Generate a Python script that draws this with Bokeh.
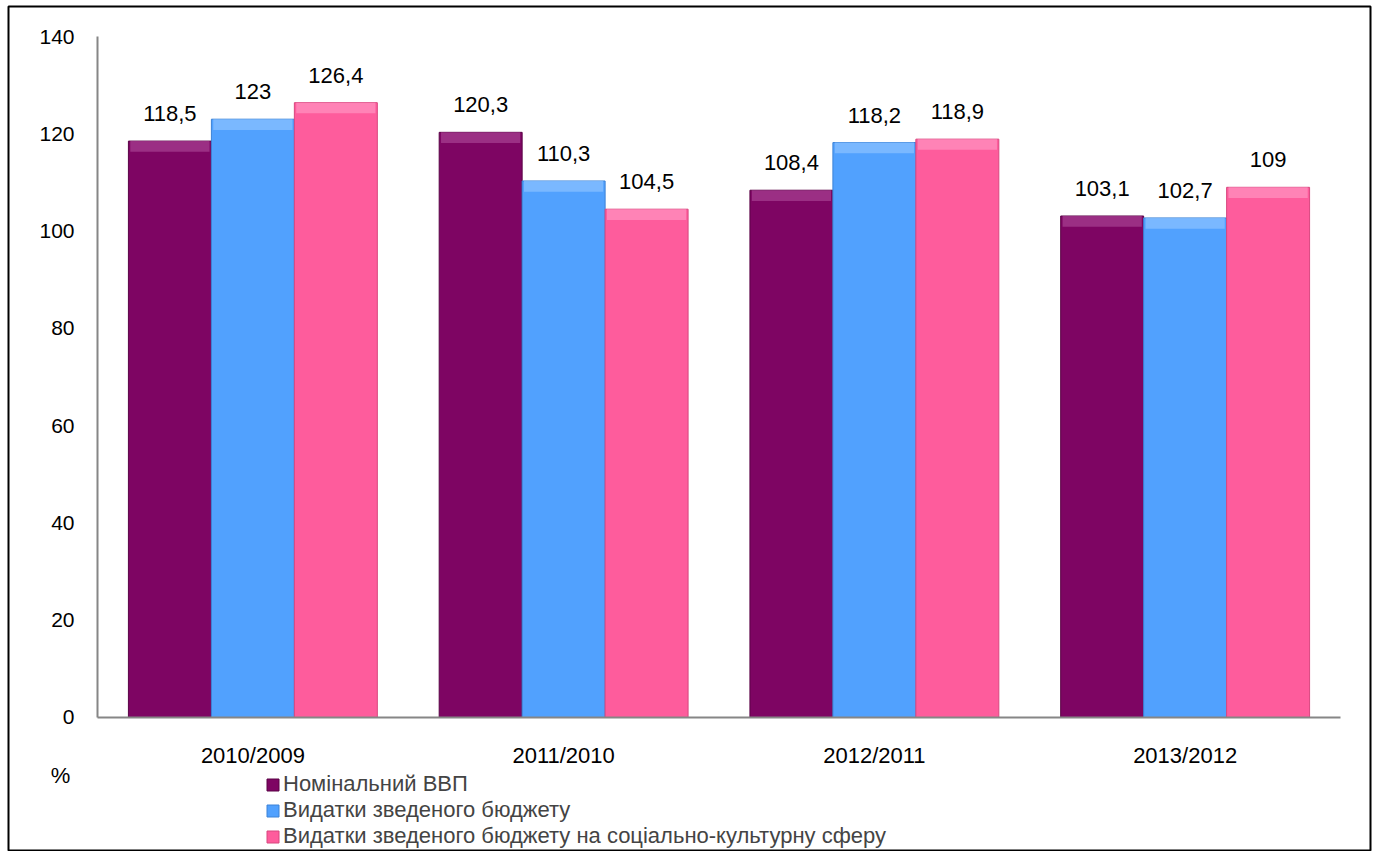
from bokeh.plotting import figure
from bokeh.models import (ColumnDataSource, Range1d, FixedTicker, Legend,
                          LegendItem, LabelSet, Label, LinearAxis)
from bokeh.core.properties import value
from bokeh.embed import file_html
from bokeh.resources import INLINE

categories = ["2010/2009", "2011/2010", "2012/2011", "2013/2012"]
gdp = [118.5, 120.3, 108.4, 103.1]
budget = [123.0, 110.3, 118.2, 102.7]
social = [126.4, 104.5, 118.9, 109.0]
gdp_lbl = ["118,5", "120,3", "108,4", "103,1"]
budget_lbl = ["123", "110,3", "118,2", "102,7"]
social_lbl = ["126,4", "104,5", "118,9", "109"]
series_names = ["Номінальний ВВП", "Видатки зведеного бюджету",
                "Видатки зведеного бюджету на соціально-культурну сферу"]
y_ticks = [0, 20, 40, 60, 80, 100, 120, 140]

colors = ["#7E0563", "#51A1FE", "#FE5C9C"]
edge = ["#5A0346", "#3C82D6", "#D8477F"]
hilite = ["#A2398C", "#85BEFF", "#FF8DBD"]
FONT = "Liberation Sans"

centers = [i + 0.5 for i in range(len(categories))]
W = 0.267
offs = [-W, 0.0, W]
keys = ["gdp", "budget", "social"]
data = dict(gdp=gdp, budget=budget, social=social)
labels = dict(gdp=gdp_lbl, budget=budget_lbl, social=social_lbl)

p = figure(x_range=Range1d(-0.2864, 4.0965), y_range=Range1d(-27.55, 146.17),
           width=1372, height=851, output_backend="svg", toolbar_location=None,
           min_border=0, min_border_left=8, min_border_right=2,
           min_border_top=6, min_border_bottom=0,
           x_axis_location=None, y_axis_location=None)
p.outline_line_color = "black"
p.outline_line_width = 2
p.xgrid.grid_line_color = None
p.ygrid.grid_line_color = None

items = []
for k, o, c, e, h, name in zip(keys, offs, colors, edge, hilite, series_names):
    xs = [cx + o for cx in centers]
    src = ColumnDataSource(dict(x=xs, top=data[k], hb=[v - 2.2 for v in data[k]], lbl=labels[k]))
    r = p.vbar(x="x", top="top", bottom=0, width=W, source=src,
               fill_color=c, line_color=e, line_width=1)
    p.vbar(x="x", top="top", bottom="hb", width=W - 0.012, source=src,
           fill_color=h, line_color=None, fill_alpha=0.8)
    items.append(LegendItem(label=name, renderers=[r]))
    p.add_layout(LabelSet(x="x", y="top", text="lbl", source=src,
                          text_align="center", text_baseline="bottom", y_offset=20,
                          text_font=value(FONT), text_font_size="22px", text_color="black"))

xax = LinearAxis(fixed_location=0, bounds=(0, len(categories)),
                 ticker=FixedTicker(ticks=centers),
                 major_label_overrides={c: s for c, s in zip(centers, categories)})
yax = LinearAxis(fixed_location=0, bounds=(0, 140), ticker=FixedTicker(ticks=y_ticks))
for ax in (xax, yax):
    ax.axis_line_color = "#868686"
    ax.axis_line_width = 2
    ax.major_tick_line_color = None
    ax.minor_tick_line_color = None
    ax.major_label_text_font = FONT
    ax.major_label_text_font_size = "22px"
    ax.major_label_text_color = "black"
yax.major_label_text_font_size = "21px"
yax.major_label_standoff = 17
xax.major_label_standoff = 20
p.add_layout(xax, "below")
p.add_layout(yax, "left")

legend = Legend(items=items, orientation="vertical", location=(257, 2),
                glyph_width=15, glyph_height=15, label_standoff=3, spacing=0,
                padding=0, margin=0, border_line_color=None, background_fill_alpha=0,
                label_text_font=FONT, label_text_font_size="22px", label_height=20)
p.add_layout(legend)

p.add_layout(Label(x=52, y=76, x_units="screen", y_units="screen", text="%",
                   text_align="center", text_baseline="middle", text_font=FONT,
                   text_font_size="22px", text_color="black"))

open("out.html", "w").write(file_html(p, INLINE))
